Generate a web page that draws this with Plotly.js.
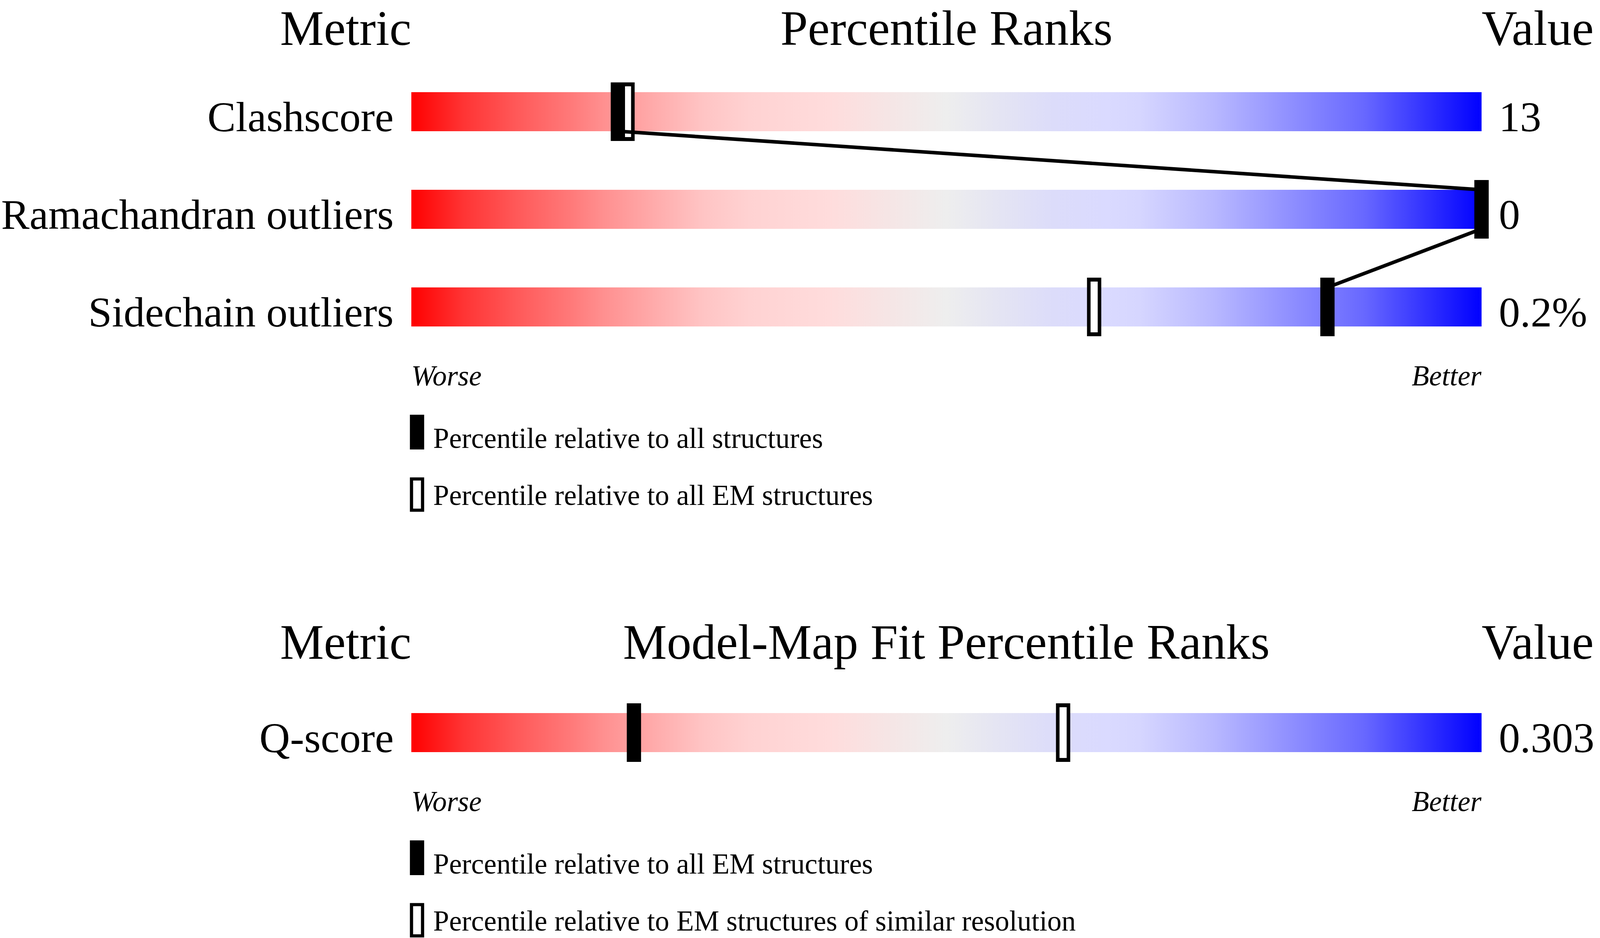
<!DOCTYPE html>
<html>
<head>
<meta charset="utf-8">
<script src="https://cdn.plot.ly/plotly-3.0.1.min.js"></script>
<style>
  html, body { margin: 0; padding: 0; background: #fff; overflow: hidden; }
</style>
</head>
<body>
<div id="myDiv"></div>
<script>
// geometry validation
var metricsGeom = ['Clashscore', 'Ramachandran outliers', 'Sidechain outliers'];
var valuesGeom = ['13', '0', '0.2%'];
var pctAllGeom = [19.3, 100, 85.6];   // relative to all structures
var pctEmGeom = [20.2, 100, 63.8];    // relative to all EM structures

// model-map fit
var metricsFit = ['Q-score'];
var valuesFit = ['0.303'];
var pctEmFit = [20.8];    // relative to all EM structures
var pctResFit = [60.9];   // relative to EM structures of similar resolution

var headersGeom = ['Metric', 'Percentile Ranks', 'Value'];
var headersFit = ['Metric', 'Model-Map Fit Percentile Ranks', 'Value'];
var legendGeom = ['Percentile relative to all structures', 'Percentile relative to all EM structures'];
var legendFit = ['Percentile relative to all EM structures', 'Percentile relative to EM structures of similar resolution'];
var endLabels = ['Worse', 'Better'];

// layout is designed on a 4485 x 2402 canvas, then stretched to the window
var W = 4485, H = 2402;
var vw = window.innerWidth || W, vh = window.innerHeight || H;
var SX = vw / W, SY = vh / H, SF = Math.min(SX, SY);
var X0 = 1153, PX_X = 30;   // bar start, px per percentile
var Y0 = 286, PX_Y = 250;   // first bar centre, px per row
var FIT_ROW = (1876 - Y0) / PX_Y;
var FONT = 'Liberation Serif, Times New Roman, serif';
var HEAD = 138, LABEL = 119, SMALL = 80;

var gradient = [
  [0, '#ff0000'], [0.05, '#ff3535'], [0.10, '#ff5a5a'], [0.15, '#ff7a7a'],
  [0.18, '#ff9090'], [0.227, '#ffabab'], [0.272, '#ffc4c4'], [0.316, '#ffd2d2'],
  [0.39, '#ffdcdc'], [0.45, '#f5e6e6'], [0.50, '#eeeeee'], [0.54, '#e6e6f2'],
  [0.60, '#dcdcfa'], [0.65, '#dadaff'], [0.68, '#d6d6ff'], [0.75, '#b8b8ff'],
  [0.82, '#9090ff'], [0.89, '#6868ff'], [0.95, '#3030ff'], [1, '#0000ff']
];

function dx(v) { return v / PX_X; }
function dy(v) { return v / PX_Y; }
// centre of a text box whose baseline sits v px below the row centre
function textY(row, v, size) { return row + dy(v - 0.3375 * size * SF / SY); }

// keep the top headline box inside the picture
var topHeadBase = Math.max(97, 0.891 * HEAD * SF / SY + 3);

var traces = [], annotations = [], shapes = [];

function txt(s, x, y, xanchor, size, italic) {
  annotations.push({
    text: s, x: x, y: y, xref: 'x', yref: 'y', xanchor: xanchor, yanchor: 'middle',
    showarrow: false, borderpad: 0, borderwidth: 0,
    font: { family: FONT, size: size * SF, color: '#000', style: italic ? 'italic' : 'normal' }
  });
}

function tick(xs, rows, len, width, color) {
  return {
    type: 'scatter', mode: 'markers', x: xs, y: rows, hoverinfo: 'skip',
    marker: { symbol: 'line-ns', size: len * SY / 1.4, color: color, line: { width: width * SX, color: color } }
  };
}

function panel(rows, metrics, values, pctFill, pctOpen, headers, legend, headOffset) {
  var half = dy(50);
  var last = rows[rows.length - 1];

  rows.forEach(function (r) {
    traces.push({
      type: 'scatter', mode: 'lines',
      x: [0, 100, 100, 0, 0], y: [r - half, r - half, r + half, r + half, r - half],
      fill: 'toself',
      fillgradient: { type: 'horizontal', start: 0, stop: 100, colorscale: gradient },
      line: { width: 0, color: 'rgba(0,0,0,0)' },
      hoverinfo: 'skip', showlegend: false
    });
  });

  // open markers: black frame with white core
  traces.push(tick(pctOpen, rows, 150, 40, '#000'));
  traces.push(tick(pctOpen, rows, 130, 20, '#fff'));

  // connector between filled markers
  if (rows.length > 1) {
    var lx = [], ly = [];
    rows.forEach(function (r, i) {
      if (i > 0) { lx.push(pctFill[i]); ly.push(r - half); }
      if (i < rows.length - 1) { lx.push(pctFill[i]); ly.push(r + half); }
    });
    traces.push({
      type: 'scatter', mode: 'lines', x: lx, y: ly, hoverinfo: 'skip',
      line: { width: 10 * SF, color: '#000' }
    });
  }

  traces.push(tick(pctFill, rows, 150, 40, '#000'));

  var hy = textY(rows[0], headOffset, HEAD);
  txt(headers[0], 0, hy, 'right', HEAD);
  txt(headers[1], 50, hy, 'center', HEAD);
  txt(headers[2], 100, hy, 'left', HEAD);

  rows.forEach(function (r, i) {
    txt(metrics[i], dx(-49), textY(r, 50, LABEL), 'right', LABEL);
    txt(values[i], 100 + dx(48), textY(r, 50, LABEL), 'left', LABEL);
  });

  txt(endLabels[0], 0, textY(last, 201, SMALL), 'left', SMALL, true);
  txt(endLabels[1], 100, textY(last, 201, SMALL), 'right', SMALL, true);

  // legend keys
  shapes.push({
    type: 'rect', xref: 'x', yref: 'y', x0: dx(-4), x1: dx(36),
    y0: last + dy(276), y1: last + dy(365), fillcolor: '#000', line: { width: 0 }
  });
  shapes.push({
    type: 'rect', xref: 'x', yref: 'y', x0: dx(0.5), x1: dx(31.5),
    y0: last + dy(440.5), y1: last + dy(520.5), fillcolor: '#fff', line: { width: 9 * SF, color: '#000' }
  });
  txt(legend[0], dx(61), textY(last, 361, SMALL), 'left', SMALL);
  txt(legend[1], dx(61), textY(last, 507, SMALL), 'left', SMALL);
}

panel(metricsGeom.map(function (_, i) { return i; }), metricsGeom, valuesGeom,
  pctAllGeom, pctEmGeom, headersGeom, legendGeom, topHeadBase - Y0);
panel(metricsFit.map(function (_, i) { return FIT_ROW + i; }), metricsFit, valuesFit,
  pctEmFit, pctResFit, headersFit, legendFit, -189);

var layout = {
  width: vw, height: vh,
  margin: { l: 0, r: 0, t: 0, b: 0, pad: 0 },
  paper_bgcolor: '#fff', plot_bgcolor: '#fff',
  showlegend: false,
  xaxis: { range: [-X0 / PX_X, (W - X0) / PX_X], visible: false, fixedrange: true },
  yaxis: { range: [(H - Y0) / PX_Y, -Y0 / PX_Y], visible: false, fixedrange: true },
  annotations: annotations,
  shapes: shapes
};

Plotly.newPlot('myDiv', traces, layout, { staticPlot: true });
</script>
</body>
</html>
